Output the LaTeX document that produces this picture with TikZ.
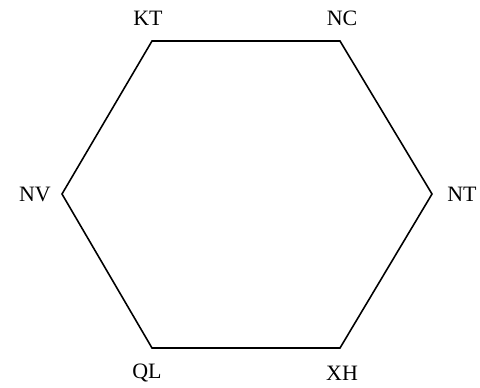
\documentclass[tikz,border=0pt]{standalone}
\usepackage{fontspec}
\setmainfont{Liberation Serif}
\usepackage{tikz}
\usetikzlibrary{positioning, calc}
\tikzset{
    % corner point of the hexagon
    corner/.style={inner sep=0pt, minimum size=0pt},
    % region names placed next to the corners
    region/.style={font=\fontsize{12.5}{14}\selectfont, inner sep=1pt},
    % outline of the hexagon
    rim/.style={line width=0.9pt, line join=miter},
}
\begin{document}
\begin{tikzpicture}[x=0.02cm, y=-0.02cm]

    % --- page frame ---
    \useasboundingbox (0, 0) rectangle (480, 387);

    % --- corners ---
    \node[corner] (kt) at (152, 41)  {};
    \node[corner] (nc) at (340, 41)  {};
    \node[corner] (nt) at (432, 194) {};
    \node[corner] (xh) at (340, 348) {};
    \node[corner] (ql) at (152, 348) {};
    \node[corner] (nv) at (62, 194)  {};

    % --- names ---
    \node[region] (lkt) at (148, 18)  {KT};
    \node[region] (lnc) at (342, 18)  {NC};
    \node[region] (lnt) at (462, 194) {NT};
    \node[region] (lxh) at (342, 373) {XH};
    \node[region] (lql) at (147, 373) {QL};
    \node[region] (lnv) at (35, 194)  {NV};

    % hexagon outline
    \draw[rim] (kt.center) -- (nc.center) -- (nt.center) -- (xh.center)
        -- (ql.center) -- (nv.center) -- cycle;

\end{tikzpicture}
\end{document}
